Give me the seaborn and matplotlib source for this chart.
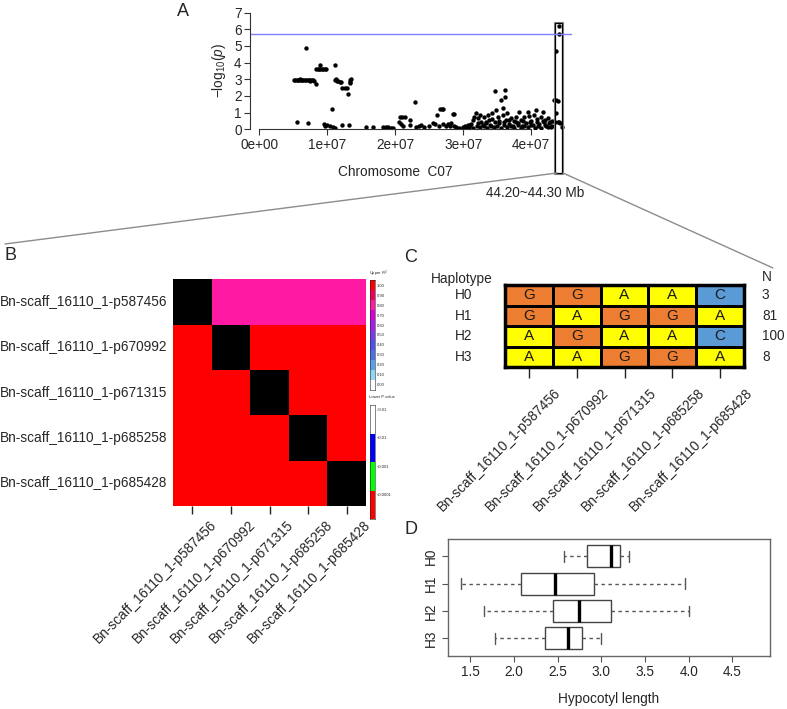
import numpy as np
import pandas as pd
import matplotlib
matplotlib.use('Agg')
import matplotlib.pyplot as plt
from matplotlib.colors import ListedColormap
from matplotlib.patches import Rectangle
from matplotlib.lines import Line2D
from matplotlib.transforms import ScaledTranslation
import seaborn as sns

# ---------------- data ----------------
# Panel A: GWAS scan on chromosome C07 (position in Mb, -log10 p)
pos_mb = [5.1, 5.3, 5.5, 5.7, 5.9, 6.1, 6.3, 6.5, 6.7, 6.9, 7.1, 7.3, 7.5, 7.7, 7.9, 8.1, 6.0, 7.4,
          8.4, 6.9, 8.9, 8.4, 8.6, 8.8, 9.0, 9.2, 9.4, 9.6, 9.8, 5.6, 7.2,
          9.5, 9.6, 9.9, 10.4, 10.8, 11.1, 10.7, 11.2,
          11.2, 11.4, 11.6, 11.8, 12.0, 11.3, 12.2, 12.6, 12.9, 13.05, 13.3, 13.4, 13.3, 13.5,
          12.2, 13.2, 15.7, 16.7, 18.2, 18.6, 18.9, 19.3, 19.7,
          20.7, 21.0, 21.4, 20.6, 20.9, 21.1, 22.1, 22.2, 22.9, 23.1, 23.5, 23.8, 24.2,
          24.9, 26.1, 25.5, 25.8, 26.4, 26.6, 26.9, 27.0, 27.0, 27.4, 27.7, 28.0,
          28.5, 28.7, 28.2, 28.6, 29.4, 29.9, 30.2, 30.4, 30.7, 30.9,
          31.1, 31.4, 31.6, 31.9, 32.1, 32.4, 32.6, 32.9, 33.1, 33.3, 33.6, 33.8, 34.1, 34.3, 34.6,
          34.6, 34.8, 35.1, 35.3, 35.5, 35.8, 35.9, 36.2, 36.2, 36.3, 36.5, 36.8, 37.0, 37.3,
          37.5, 37.8, 38.0, 38.2, 38.5, 38.7, 39.0, 39.2, 39.5, 39.7, 40.0, 40.2, 40.4, 40.7,
          40.9, 41.2, 41.4, 41.7, 41.9, 42.2, 42.4, 42.6, 42.9, 43.1,
          31.5, 32.5, 33.5, 34.5, 35.5, 36.5, 37.5, 38.5, 39.5, 40.5, 41.5, 42.5,
          32.0, 33.0, 34.0, 35.0, 36.0, 37.0, 38.0, 39.0, 40.0, 41.0, 42.0, 43.0, 31.0, 30.0, 29.0,
          32.2, 33.4, 34.2, 35.2, 36.0, 36.8, 37.8, 38.8, 39.8, 40.8, 41.8, 42.8, 42.0,
          43.6, 43.4, 43.6, 43.9, 43.7, 43.5, 44.1, 44.1, 44.3, 44.6, 43.9, 44.1]
neg_log_p = [2.95, 2.95, 2.95, 2.95, 2.95, 2.95, 2.95, 2.95, 2.95, 2.95, 2.95, 2.95, 2.95, 2.95, 2.95, 2.9, 3.0, 2.9,
             2.7, 4.85, 3.86, 3.62, 3.62, 3.62, 3.62, 3.64, 3.62, 3.62, 3.64, 0.42, 0.40,
             0.32, 0.2, 0.26, 0.2, 0.16, 0.1, 1.24, 3.86,
             2.95, 2.9, 2.88, 2.85, 2.85, 3.0, 2.46, 2.46, 2.46, 2.1, 2.95, 2.85, 2.75, 3.0,
             0.24, 0.24, 0.14, 0.14, 0.16, 0.12, 0.14, 0.1, 0.1,
             0.76, 0.72, 0.72, 0.46, 0.32, 0.2, 0.56, 0.26, 1.62, 0.16, 0.2, 0.24, 0.14,
             0.2, 0.84, 0.4, 0.32, 0.2, 1.2, 1.24, 1.22, 0.32, 0.2, 0.3, 0.2,
             0.9, 0.92, 0.36, 0.2, 0.1, 0.16, 0.2, 0.12, 0.24, 0.16,
             0.32, 0.56, 0.76, 0.96, 0.66, 0.86, 0.46, 0.26, 0.76, 0.36, 0.86, 0.56, 0.2, 0.96, 0.46,
             2.32, 1.16, 0.72, 0.36, 1.76, 1.26, 0.86, 2.36, 1.92, 0.56, 0.96, 0.32, 0.66, 0.2,
             0.52, 0.76, 0.36, 1.06, 0.56, 0.2, 0.72, 0.4, 1.06, 0.8, 0.52, 0.26, 0.86, 1.16,
             0.6, 0.32, 0.76, 1.06, 0.46, 0.2, 0.66, 0.36, 0.16, 0.52,
             0.1, 0.12, 0.1, 0.14, 0.1, 0.12, 0.1, 0.1, 0.12, 0.1, 0.1, 0.12,
             0.2, 0.22, 0.25, 0.2, 0.25, 0.22, 0.26, 0.2, 0.24, 0.22, 0.26, 0.2, 0.25, 0.1, 0.14,
             0.4, 0.45, 0.6, 0.5, 0.42, 0.55, 0.45, 0.48, 0.42, 0.44, 0.5, 0.45, 0.55,
             4.72, 1.76, 1.76, 1.72, 1.0, 0.42, 6.21, 5.7, 0.4, 0.12, 0.45, 0.42]
threshold = 5.69
region_mb = (43.5, 44.5)
a_xticks = [0, 1e7, 2e7, 3e7, 4e7]
a_xticklabels = ['0e+00', '1e+07', '2e+07', '3e+07', '4e+07']
a_yticks = [0, 1, 2, 3, 4, 5, 6, 7]

# Panel B: LD between the five SNPs (upper: R^2, lower: P value class)
snps = ['Bn-scaff_16110_1-p587456', 'Bn-scaff_16110_1-p670992', 'Bn-scaff_16110_1-p671315',
        'Bn-scaff_16110_1-p685258', 'Bn-scaff_16110_1-p685428']
upper_r2 = [[None, 0.8, 0.8, 0.8, 0.8],
            [None, None, 1.0, 1.0, 1.0],
            [None, None, None, 1.0, 1.0],
            [None, None, None, None, 1.0],
            [None, None, None, None, None]]
lower_p_class = [[None, None, None, None, None],
                 [3, None, None, None, None],
                 [3, 3, None, None, None],
                 [3, 3, 3, None, None],
                 [3, 3, 3, 3, None]]
r2_labels = ['1.00', '0.90', '0.80', '0.70', '0.60', '0.50', '0.40', '0.30', '0.20', '0.10', '0.00']
r2_colors = ['#FF0000', '#F0005A', '#FF19A3', '#D600D6', '#A81EE6', '#7A3CE6', '#4F52E6',
             '#4A72E2', '#5AA0EA', '#8ED8F0', '#FFFFFF']
p_labels = ['>0.01', '<0.01', '<0.001', '<0.0001']
p_colors = ['#FFFFFF', '#0000FF', '#00FF00', '#FF0000']

# Panel C: haplotypes
hap_names = ['H0', 'H1', 'H2', 'H3']
hap_alleles = [['G', 'G', 'A', 'A', 'C'],
               ['G', 'A', 'G', 'G', 'A'],
               ['A', 'G', 'A', 'A', 'C'],
               ['A', 'A', 'G', 'G', 'A']]
hap_counts = [3, 81, 100, 8]
allele_order = ['G', 'A', 'C']
allele_colors = ['#ED7D31', '#FFFF00', '#5B9BD5']

# Panel D: hypocotyl length per haplotype (box summary)
hyp_min = [2.57, 1.39, 1.65, 1.78]
hyp_q1 = [2.84, 2.08, 2.44, 2.35]
hyp_med = [3.11, 2.47, 2.74, 2.62]
hyp_q3 = [3.21, 2.91, 3.11, 2.78]
hyp_max = [3.31, 3.96, 4.00, 2.99]
d_xticks = [1.5, 2.0, 2.5, 3.0, 3.5, 4.0, 4.5]

# ---------------- style ----------------
sns.set_style('ticks')
plt.rcParams['font.family'] = ['Liberation Sans', 'DejaVu Sans']
plt.rcParams['mathtext.fontset'] = 'custom'
plt.rcParams['mathtext.rm'] = 'Liberation Sans'
plt.rcParams['mathtext.it'] = 'Liberation Sans:italic'

W, H = 787, 709
fig = plt.figure(figsize=(W / 100, H / 100), dpi=100)


def box(x0, y0, x1, y1):
    # pixel box (top-left origin) -> figure fraction rect
    return [x0 / W, 1 - y1 / H, (x1 - x0) / W, (y1 - y0) / H]


def px(x, y):
    return x / W, 1 - y / H


fs = 9.8

# ---------------- Panel A ----------------
axA = fig.add_axes(box(250, 11, 572, 129.3))
gwas = pd.DataFrame({'pos': np.array(pos_mb) * 1e6, 'logp': neg_log_p})
sns.scatterplot(data=gwas, x='pos', y='logp', color='black', s=10, linewidth=0, ax=axA)
axA.axhline(threshold, color='#7F7FFF', lw=1)
axA.set_xlim(-1.37e6, 46.0e6)
axA.set_ylim(0, 7.1)
axA.set_xticks(a_xticks)
axA.set_xticklabels(a_xticklabels)
axA.set_yticks(a_yticks)
axA.tick_params(labelsize=fs, length=4, width=0.8, color='#333333', pad=2)
for s in ['top', 'right']:
    axA.spines[s].set_visible(False)
axA.spines['left'].set_bounds(0, 7)
axA.spines['bottom'].set_bounds(0, 4e7)
for s in ['left', 'bottom']:
    axA.spines[s].set_color('#333333')
    axA.spines[s].set_linewidth(0.8)
axA.set_xlabel('')
axA.set_ylabel(r'$-\mathrm{log}_{10}(\mathit{p})$', fontsize=fs, labelpad=4)
w = region_mb[1] - region_mb[0]
axA.add_patch(Rectangle((region_mb[0] * 1e6 - 1.5e5, -2.7), w * 1e6 + 3e5, 9.16,
                        fill=False, ec='#888888', lw=0.8, clip_on=False))
axA.add_patch(Rectangle((region_mb[0] * 1e6, -2.62), w * 1e6, 9.0,
                        fill=False, ec='black', lw=0.9, clip_on=False))
fig.text(*px(395, 172), 'Chromosome  C07', fontsize=fs, ha='center', va='center')
fig.text(*px(535, 193), '44.20~44.30 Mb', fontsize=fs, ha='center', va='center')
fig.add_artist(Line2D([557 / W, 5 / W], [1 - 173 / H, 1 - 244 / H], color='#8C8C8C', lw=1))
fig.add_artist(Line2D([563 / W, 773 / W], [1 - 173 / H, 1 - 268 / H], color='#8C8C8C', lw=1))

# ---------------- Panel B ----------------
n = len(snps)
codes = np.zeros((n, n))
for i in range(n):
    for j in range(n):
        if i == j:
            codes[i, j] = 0
        elif j > i:
            codes[i, j] = 1 + int(round((1 - upper_r2[i][j]) * 10))
        else:
            codes[i, j] = 1 + len(r2_colors) + lower_p_class[i][j]
ld_cmap = ListedColormap(['black'] + r2_colors + p_colors)
axB = fig.add_axes(box(173, 279.3, 366, 506))
sns.heatmap(pd.DataFrame(codes, index=snps, columns=snps), cmap=ld_cmap,
            vmin=-0.5, vmax=len(ld_cmap.colors) - 0.5, cbar=False, ax=axB)
axB.set_yticklabels(snps, rotation=0, fontsize=fs)
axB.set_xticklabels(snps, rotation=45, ha='right', va='top', rotation_mode='anchor', fontsize=fs)
axB.tick_params(axis='y', length=0, pad=4)
axB.tick_params(axis='x', bottom=True, length=6, width=1, color='#222222', pad=1)
for lab in axB.get_xticklabels():
    lab.set_transform(lab.get_transform() + ScaledTranslation(0.17, -0.02, fig.dpi_scale_trans))

axR2 = fig.add_axes(box(370, 280, 375, 390))
sns.heatmap(np.arange(len(r2_colors)).reshape(-1, 1), cmap=ListedColormap(r2_colors),
            vmin=-0.5, vmax=len(r2_colors) - 0.5, cbar=False, ax=axR2,
            xticklabels=False, yticklabels=r2_labels)
axR2.yaxis.tick_right()
axR2.tick_params(axis='y', length=0, labelsize=3, pad=1, labelrotation=0)
for s in axR2.spines.values():
    s.set_visible(True)
    s.set_linewidth(0.4)
fig.text(*px(369, 274), 'Upper R$^2$', fontsize=3, ha='left', va='center')

axP = fig.add_axes(box(370, 405, 375, 519))
sns.heatmap(np.arange(len(p_colors)).reshape(-1, 1), cmap=ListedColormap(p_colors),
            vmin=-0.5, vmax=len(p_colors) - 0.5, cbar=False, ax=axP,
            xticklabels=False, yticklabels=False)
axP.set_yticks(np.arange(len(p_labels)) + 0.15)
axP.set_yticklabels(p_labels)
axP.yaxis.tick_right()
axP.tick_params(axis='y', length=0, labelsize=3, pad=1, labelrotation=0)
for s in axP.spines.values():
    s.set_visible(True)
    s.set_linewidth(0.4)
fig.text(*px(369, 397), 'Lower P value', fontsize=3, ha='left', va='center')

# ---------------- Panel C ----------------
hap_codes = pd.DataFrame([[allele_order.index(a) for a in row] for row in hap_alleles],
                         index=hap_names, columns=snps)
axC = fig.add_axes(box(505, 285, 744, 367.3))
sns.heatmap(hap_codes, cmap=ListedColormap(allele_colors), vmin=-0.5, vmax=2.5,
            annot=np.array(hap_alleles), fmt='', cbar=False, linewidths=2, linecolor='black',
            annot_kws={'fontsize': 11, 'color': '#1a1a1a'}, ax=axC)
for s in axC.spines.values():
    s.set_visible(True)
    s.set_linewidth(2.5)
    s.set_color('black')
axC.set_yticklabels(hap_names, rotation=0, fontsize=fs, ha='center')
axC.tick_params(axis='y', length=0, pad=30)
axC.set_xticklabels(snps, rotation=45, ha='right', va='top', rotation_mode='anchor', fontsize=fs)
axC.tick_params(axis='x', bottom=True, length=8, width=1, color='#222222', pad=1)
for lab in axC.get_xticklabels():
    lab.set_transform(lab.get_transform() + ScaledTranslation(0.25, -0.06, fig.dpi_scale_trans))
axC.set_xlabel('')
axC.set_ylabel('')
fig.text(*px(462, 279), 'Haplotype', fontsize=fs, ha='center', va='center')
fig.text(*px(762, 277), 'N', fontsize=fs, ha='left', va='center')
for k, cnt in enumerate(hap_counts):
    axC.text(1.075, 1 - (k + 0.5) / len(hap_counts), str(cnt), transform=axC.transAxes,
             fontsize=fs, ha='left', va='center')

# ---------------- Panel D ----------------
rows = []
for k, h in enumerate(hap_names):
    for v in [hyp_min[k], hyp_q1[k], hyp_med[k], hyp_q3[k], hyp_max[k]]:
        rows.append({'hap': h, 'length': v})
hyp = pd.DataFrame(rows)
axD = fig.add_axes(box(447.7, 539, 770, 655.7))
sns.boxplot(data=hyp, x='length', y='hap', order=hap_names, orient='h', whis=(0, 100),
            color='white', saturation=1, linecolor='#444444', linewidth=1, width=0.8,
            medianprops={'color': 'black', 'linewidth': 2.4},
            whiskerprops={'linestyle': (0, (2.5, 2.5)), 'color': '#555555'},
            capprops={'color': '#555555'}, ax=axD)
axD.set_ylim(3.635, -0.635)
axD.set_xlim(1.24, 4.93)
axD.set_xticks(d_xticks)
axD.set_xticklabels([f'{t:.1f}' for t in d_xticks])
axD.set_yticks(range(len(hap_names)))
axD.set_yticklabels(hap_names, rotation=90, va='center')
axD.tick_params(labelsize=fs, length=4, width=0.8, color='#555555', pad=3)
for s in axD.spines.values():
    s.set_visible(True)
    s.set_color('#666666')
    s.set_linewidth(1)
axD.set_ylabel('')
axD.set_xlabel('Hypocotyl length', fontsize=fs, labelpad=9)

# ---------------- panel letters ----------------
for letter, (x, y) in zip('ABCD', [(183, 12), (11, 255), (411, 257), (411, 530)]):
    fig.text(*px(x, y), letter, fontsize=13, ha='center', va='center')

fig.savefig('out.png', dpi=100)
